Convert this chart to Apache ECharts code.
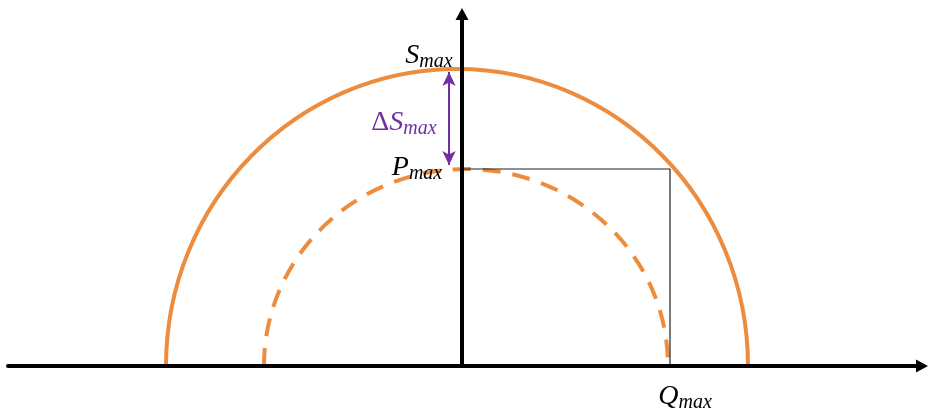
<!DOCTYPE html>
<html>
<head>
<meta charset="utf-8">
<script src="https://cdn.jsdelivr.net/npm/echarts@6/dist/echarts.min.js"></script>
<style>
  html, body { margin: 0; padding: 0; background: #fff; }
  #chart { width: 930px; height: 408px; }
</style>
</head>
<body>
<div id="chart"></div>
<script>
// axis extents, same unit on both axes, origin where the axes cross
const xRange = [-454, 460];
const yRange = [0, 352];

// capability circles: centre on the horizontal axis, horizontal / vertical radius
const circleNames = ['S', 'P'];
const circleCentreX = [-5, 4];
const circleRadiusX = [291, 202];
const circleRadiusY = [297, 197];
const circleDashed = [0, 1];

// key points
const sMax = 297;
const pMax = 197;
const qMax = 208;

// delta arrow between S_max and P_max
const deltaX = -13;
const deltaEnds = [294, 201];

// labels: letter, subscript, anchor point
const labelMain = ['S', 'ΔS', 'P', 'Q'];
const labelSub = ['max', 'max', 'max', 'max'];
const labelX = [0, deltaX, 0, qMax];
const labelY = [sMax, (deltaEnds[0] + deltaEnds[1]) / 2, pMax, 0];

const ORANGE = '#EE8C3E';
const PURPLE = '#7030A0';
const serif = '"Liberation Serif", "DejaVu Serif", serif';

const chart = echarts.init(document.getElementById('chart'));

const richFor = (color) => ({
  d: { fontFamily: serif, fontSize: 28, lineHeight: 30, color: color },
  m: { fontFamily: serif, fontStyle: 'italic', fontSize: 28, lineHeight: 30, color: color },
  s: { fontFamily: serif, fontStyle: 'italic', fontSize: 20, lineHeight: 20, padding: [12, 0, 0, 0], color: color }
});

const labelOffsets = [[-33, -13], [-45, 4], [-45, -1], [15, 31]];

const labelData = labelMain.map((t, i) => {
  const purple = t.startsWith('Δ');
  const main = purple ? '{d|Δ}{m|' + t.slice(1) + '}' : '{m|' + t + '}';
  const color = purple ? PURPLE : '#000';
  return {
    value: [labelX[i], labelY[i]],
    label: {
      show: true,
      position: 'inside',
      offset: labelOffsets[i],
      color: color,
      opacity: 1,
      textBorderWidth: 0,
      formatter: main + '{s|' + labelSub[i] + '}',
      rich: richFor(color)
    }
  };
});

const axisStyle = {
  show: true,
  onZero: true,
  symbol: ['none', 'triangle'],
  symbolSize: [13, 12],
  lineStyle: { color: '#000', width: 4 }
};

const option = {
  animation: false,
  grid: { left: 8, right: 8, top: 14, bottom: 42 },
  xAxis: {
    type: 'value',
    min: xRange[0],
    max: xRange[1],
    z: 10,
    axisLine: axisStyle,
    axisTick: { show: false },
    axisLabel: { show: false },
    splitLine: { show: false }
  },
  yAxis: {
    type: 'value',
    min: yRange[0],
    max: yRange[1],
    z: 10,
    axisLine: axisStyle,
    axisTick: { show: false },
    axisLabel: { show: false },
    splitLine: { show: false }
  },
  series: [
    {
      type: 'custom',
      name: 'circles',
      clip: true,
      data: circleNames.map((n, i) => [circleCentreX[i], circleRadiusX[i], circleRadiusY[i], circleDashed[i]]),
      renderItem: (params, api) => {
        const c = api.coord([api.value(0), 0]);
        const r = api.size([api.value(1), api.value(2)]);
        return {
          type: 'ellipse',
          shape: { cx: c[0], cy: c[1], rx: r[0], ry: r[1] },
          style: {
            fill: 'none',
            stroke: ORANGE,
            lineWidth: 4,
            lineDash: api.value(3) ? [18, 12] : null
          }
        };
      }
    },
    {
      type: 'line',
      name: 'box',
      symbol: 'none',
      data: [[0, pMax], [qMax, pMax], [qMax, 0]],
      lineStyle: { color: '#222', width: 1.2 },
      markLine: {
        silent: true,
        symbol: ['arrow', 'arrow'],
        symbolSize: [10, 14],
        label: { show: false },
        lineStyle: { color: PURPLE, width: 2, type: 'solid' },
        data: [[{ coord: [deltaX, deltaEnds[0]] }, { coord: [deltaX, deltaEnds[1]] }]]
      }
    },
    {
      type: 'scatter',
      name: 'labels',
      symbolSize: 0,
      itemStyle: { opacity: 1 },
      data: labelData
    }
  ]
};

chart.setOption(option);
</script>
</body>
</html>
